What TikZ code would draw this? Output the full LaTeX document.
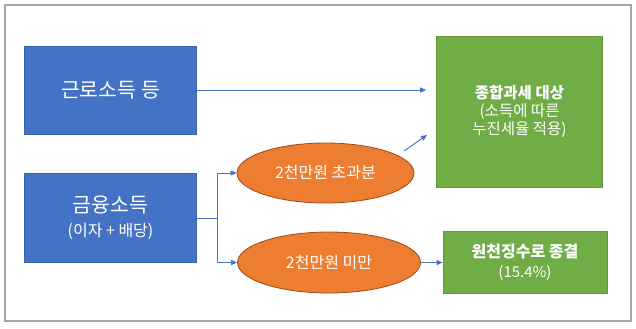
\documentclass[tikz,border=0pt]{standalone}
\usepackage{fontspec}
\setmainfont{Noto Sans CJK KR}
\usetikzlibrary{arrows.meta,shapes.geometric}
\definecolor{mblue}{HTML}{4472C4}
\definecolor{mblueb}{HTML}{3A62A8}
\definecolor{mgreen}{HTML}{70AD47}
\definecolor{mgreenb}{HTML}{62993D}
\definecolor{morange}{HTML}{ED7D31}
\definecolor{morangeb}{HTML}{9C4A17}
\definecolor{mframe}{HTML}{A6A6A6}
\definecolor{marrow}{HTML}{4472C4}
\tikzset{
  bluebox/.style={draw=mblueb, line width=0.6bp, fill=mblue, text=white, rectangle, inner sep=0pt, align=center},
  greenbox/.style={draw=mgreenb, line width=0.6bp, fill=mgreen, text=white, rectangle, inner sep=0pt, align=center},
  oval/.style={draw=morangeb, line width=0.8bp, fill=morange, text=white, ellipse, inner sep=0pt, align=center},
  conn/.style={draw=marrow, line width=0.9bp, -{Triangle[length=6bp,width=5bp]}},
  plainconn/.style={draw=marrow, line width=0.9bp}
}
\begin{document}
\begin{tikzpicture}[x=1bp,y=-1bp]
\useasboundingbox (0,0) rectangle (636,328);
\draw[mframe, line width=1.3bp] (5,5) rectangle (631,321);

\node[bluebox, minimum width=172bp, minimum height=88bp,
  font={\fontsize{20.5bp}{24bp}\selectfont}] (b1) at (110.5,90)
  {근로소득 등};
\node[bluebox, minimum width=172bp, minimum height=89bp,
  font={\fontsize{20.5bp}{24bp}\selectfont}] (b2) at (110.5,217.5)
  {금융소득\\{\fontsize{16bp}{17bp}\selectfont (이자 + 배당)}};

\node[greenbox, minimum width=166bp, minimum height=151bp,
  font={\fontsize{15.5bp}{18bp}\selectfont}] (g1) at (519.5,111.5)
  {\textbf{종합과세 대상}\\(소득에 따른\\누진세율 적용)};
\node[greenbox, minimum width=164bp, minimum height=62bp,
  font={\fontsize{15.5bp}{20bp}\selectfont}] (g2) at (525,262)
  {\textbf{\fontsize{16bp}{20bp}\selectfont 원천징수로 종결}\\{\fontsize{15bp}{20bp}\selectfont (15.4\%)}};

\node[oval, minimum width=177bp, minimum height=60bp,
  font={\fontsize{16bp}{18bp}\selectfont}] (e1) at (325.5,173)
  {2천만원 초과분};
\node[oval, minimum width=183bp, minimum height=61bp,
  font={\fontsize{16bp}{18bp}\selectfont}] (e2) at (329,262.5)
  {2천만원 미만};

\coordinate (split) at (217,218);
\coordinate (a2s) at (404,151);
\coordinate (a2e) at (427,135);

\draw[conn, shorten >=10bp] (b1.east) -- (b1.east -| g1.west);
\draw[conn] (a2s) -- (a2e);
\draw[plainconn] (b2.east |- split) -- (split);
\draw[conn] (split) |- (e1.west);
\draw[conn] (split) |- (e2.west);
\draw[conn] (e2.east) -- (e2.east -| g2.west);
\end{tikzpicture}
\end{document}
